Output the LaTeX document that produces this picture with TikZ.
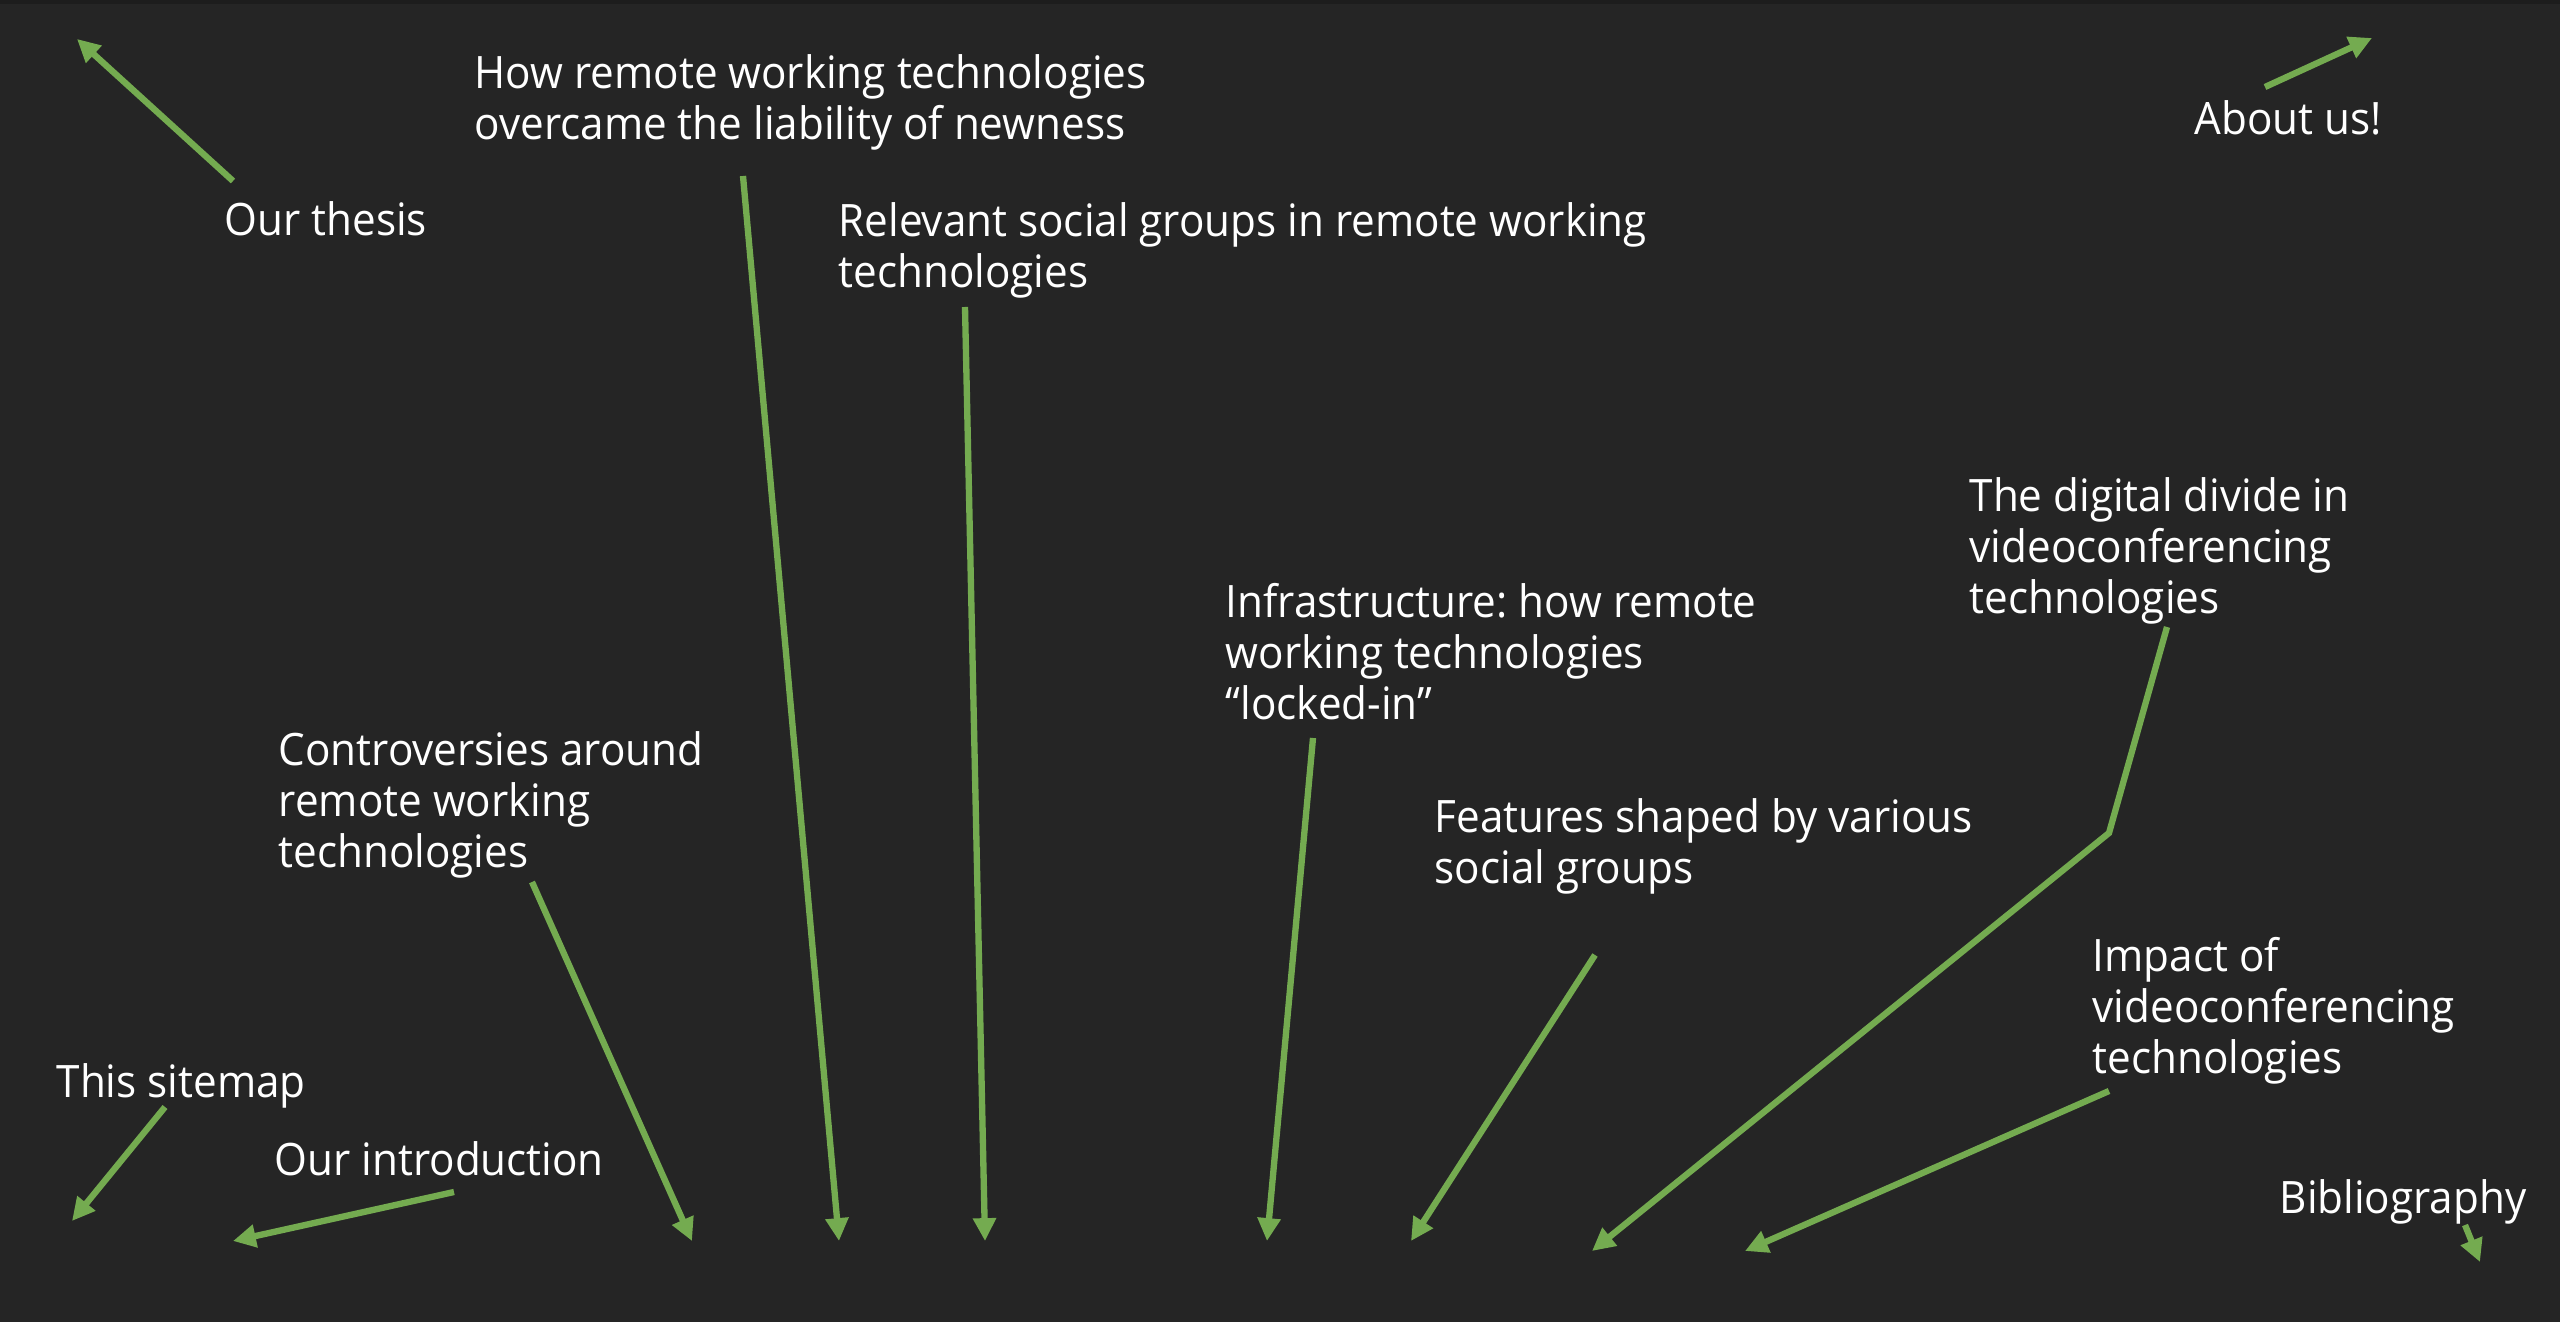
\documentclass[tikz,border=0pt]{standalone}
\usepackage{fontspec}
\setmainfont[FakeStretch=0.945]{Open Sans}
\usetikzlibrary{arrows.meta}
\definecolor{slidebg}{RGB}{37,37,37}
\definecolor{slidetop}{RGB}{29,29,29}
\definecolor{linkgreen}{RGB}{116,171,80}
\frenchspacing

\begin{document}
\begin{tikzpicture}[x=0.01cm, y=-0.01cm,
	every node/.style={font=\fontsize{12.7}{14.5}\selectfont, text=white, inner sep=0pt, anchor=north west, align=left},
	link/.style={draw=linkgreen, line width=1.8pt, -{Triangle[length=6.5pt,width=6.3pt]}}]
	\fill[slidebg] (0,0) rectangle (2560,1322);
	\fill[slidetop] (0,0) rectangle (2560,4);
	\useasboundingbox (0,0) rectangle (2560,1322);

	\node (thesis) at (224,201) {Our thesis};
	\node (newness) at (474,54) {How remote working technologies\\overcame the liability of newness};
	\node (groups) at (838,202) {Relevant social groups in remote working\\technologies};
	\node (aboutus) at (2194,100) {About us!};
	\node (divide) at (1969,477) {The digital divide in\\videoconferencing\\technologies};
	\node (lockin) at (1225,583) {Infrastructure: how remote\\working technologies\\“locked-in”};
	\node (controv) at (278,731) {Controversies around\\remote working\\technologies};
	\node (features) at (1434,798) {Features shaped by various\\social groups};
	\node (impact) at (2092,937) {Impact of\\videoconferencing\\technologies};
	\node (sitemap) at (56,1063) {This sitemap};
	\node (intro) at (274,1141) {Our introduction};
	\node (biblio) at (2279,1179) {Bibliography};

	\coordinate (thesis-tail) at (233,181);   \coordinate (thesis-tip) at (77,39);
	\coordinate (newness-tail) at (743,176);  \coordinate (newness-tip) at (839,1241);
	\coordinate (groups-tail) at (965,307);   \coordinate (groups-tip) at (985,1241);
	\coordinate (aboutus-tail) at (2265,87);  \coordinate (aboutus-tip) at (2372,38);
	\coordinate (divide-tail) at (2167,627);  \coordinate (divide-bend) at (2109,833);
	\coordinate (divide-tip) at (1592,1251);
	\coordinate (lockin-tail) at (1313,738);  \coordinate (lockin-tip) at (1267,1241);
	\coordinate (controv-tail) at (532,882);  \coordinate (controv-tip) at (692,1241);
	\coordinate (features-tail) at (1595,955); \coordinate (features-tip) at (1411,1241);
	\coordinate (impact-tail) at (2109,1091); \coordinate (impact-tip) at (1745,1251);
	\coordinate (sitemap-tail) at (165,1107); \coordinate (sitemap-tip) at (72,1221);
	\coordinate (intro-tail) at (454,1192);   \coordinate (intro-tip) at (233,1241);
	\coordinate (biblio-tail) at (2465,1225); \coordinate (biblio-tip) at (2480,1262);

	\draw[link] (thesis-tail) -- (thesis-tip);
	\draw[link] (newness-tail) -- (newness-tip);
	\draw[link] (groups-tail) -- (groups-tip);
	\draw[link] (aboutus-tail) -- (aboutus-tip);
	\draw[link] (divide-tail) -- (divide-bend) -- (divide-tip);
	\draw[link] (lockin-tail) -- (lockin-tip);
	\draw[link] (controv-tail) -- (controv-tip);
	\draw[link] (features-tail) -- (features-tip);
	\draw[link] (impact-tail) -- (impact-tip);
	\draw[link] (sitemap-tail) -- (sitemap-tip);
	\draw[link] (intro-tail) -- (intro-tip);
	\draw[link] (biblio-tail) -- (biblio-tip);
\end{tikzpicture}
\end{document}
